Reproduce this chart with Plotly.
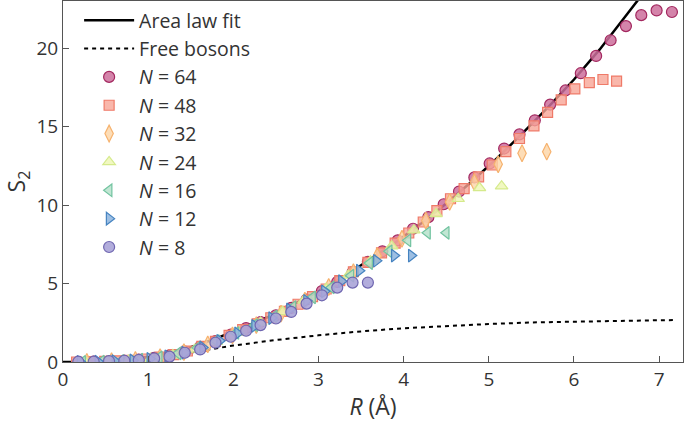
import plotly.graph_objects as go

# Area law fit curve
fit_R = [0, 0.3, 0.6, 0.9, 1.2, 1.5, 1.8, 2.1, 2.4, 2.7, 3.0, 3.3, 3.6, 3.9, 4.2, 4.5, 4.8, 5.1, 5.4, 5.7, 6.0, 6.3, 6.6, 6.9]
fit_S = [0, 0.02, 0.1, 0.25, 0.5, 0.95, 1.5, 2.15, 2.85, 3.65, 4.5, 5.45, 6.5, 7.6, 8.8, 10.1, 11.5, 13.0, 14.6, 16.25, 18.0, 19.9, 22.0, 24.1]

# Free bosons curve
fb_R = [0, 0.5, 1.0, 1.5, 2.0, 2.5, 3.0, 3.5, 4.0, 4.5, 5.0, 5.5, 6.0, 6.5, 7.0, 7.2]
fb_S = [0, 0.05, 0.25, 0.6, 1.05, 1.4, 1.7, 1.95, 2.15, 2.3, 2.42, 2.52, 2.58, 2.63, 2.66, 2.67]

R64 = [0.18, 0.36, 0.54, 0.72, 0.89, 1.07, 1.25, 1.43, 1.61, 1.79, 1.97, 2.15, 2.32, 2.50, 2.68, 2.86, 3.04, 3.22, 3.40, 3.58,
       3.75, 3.93, 4.11, 4.29, 4.47, 4.65, 4.83, 5.01, 5.18, 5.36, 5.54, 5.72, 5.90, 6.08, 6.26, 6.43, 6.61, 6.79, 6.97, 7.15]
S64 = [0.0, 0.02, 0.05, 0.09, 0.15, 0.26, 0.42, 0.66, 0.97, 1.33, 1.74, 2.16, 2.55, 2.98, 3.45, 3.98, 4.52, 5.1, 5.72, 6.38,
       7.05, 7.75, 8.49, 9.23, 10.05, 10.86, 11.76, 12.65, 13.6, 14.5, 15.4, 16.4, 17.3, 18.4, 19.5, 20.5, 21.4, 22.1, 22.4, 22.3]

R48 = [0.16, 0.33, 0.49, 0.65, 0.81, 0.98, 1.14, 1.30, 1.46, 1.63, 1.79, 1.95, 2.11, 2.28, 2.44, 2.60, 2.76, 2.93, 3.09, 3.25,
       3.41, 3.58, 3.74, 3.90, 4.06, 4.23, 4.39, 4.55, 4.71, 4.88, 5.04, 5.20, 5.36, 5.53, 5.69, 5.85, 6.01, 6.18, 6.34, 6.50]
S48 = [0.0, 0.02, 0.04, 0.07, 0.11, 0.19, 0.31, 0.47, 0.7, 1.0, 1.32, 1.69, 2.06, 2.43, 2.82, 3.22, 3.68, 4.17, 4.65, 5.18,
       5.75, 6.35, 6.95, 7.58, 8.22, 8.92, 9.65, 10.4, 11.05, 11.8, 12.55, 13.4, 14.24, 15.05, 15.9, 16.7, 17.4, 17.8, 18.0, 17.9]

R32 = [0.28, 0.57, 0.85, 1.14, 1.42, 1.70, 1.99, 2.27, 2.56, 2.84, 3.12, 3.41, 3.69, 3.98, 4.26, 4.54, 4.83, 5.11, 5.39, 5.68]
S32 = [0.01, 0.05, 0.13, 0.3, 0.63, 1.12, 1.7, 2.35, 3.08, 3.9, 4.78, 5.72, 6.75, 7.85, 9.0, 10.2, 11.45, 12.6, 13.3, 13.4]

R24 = [0.26, 0.52, 0.77, 1.03, 1.29, 1.55, 1.80, 2.06, 2.32, 2.58, 2.83, 3.09, 3.35, 3.61, 3.86, 4.12, 4.38, 4.64, 4.89, 5.15]
S24 = [0.01, 0.04, 0.1, 0.22, 0.44, 0.8, 1.3, 1.88, 2.52, 3.2, 3.92, 4.68, 5.52, 6.42, 7.38, 8.4, 9.44, 10.4, 11.1, 11.2]

R16 = [0.23, 0.45, 0.68, 0.90, 1.13, 1.35, 1.58, 1.80, 2.03, 2.25, 2.48, 2.70, 2.93, 3.15, 3.38, 3.60, 3.83, 4.05, 4.28, 4.50]
S16 = [0.01, 0.03, 0.08, 0.16, 0.3, 0.55, 0.9, 1.33, 1.85, 2.35, 2.9, 3.5, 4.12, 4.75, 5.5, 6.3, 7.05, 7.75, 8.23, 8.23]

R12 = [0.20, 0.41, 0.61, 0.82, 1.02, 1.23, 1.43, 1.64, 1.84, 2.05, 2.25, 2.45, 2.66, 2.86, 3.07, 3.27, 3.48, 3.68, 3.89, 4.09]
S12 = [0.01, 0.03, 0.06, 0.11, 0.2, 0.36, 0.6, 0.93, 1.35, 1.82, 2.3, 2.8, 3.35, 3.9, 4.5, 5.15, 5.82, 6.45, 6.78, 6.78]

R8 = [0.18, 0.36, 0.54, 0.72, 0.89, 1.07, 1.25, 1.43, 1.61, 1.79, 1.97, 2.15, 2.32, 2.50, 2.68, 2.86, 3.04, 3.22, 3.40, 3.58]
S8 = [0.02, 0.02, 0.06, 0.08, 0.13, 0.23, 0.34, 0.59, 0.80, 1.23, 1.61, 1.99, 2.35, 2.77, 3.19, 3.72, 4.25, 4.74, 5.06, 5.06]

series = [
    ("64", R64, S64, "circle", "rgba(205,110,155,0.85)", "#a3285f", 11),
    ("48", R48, S48, "square", "rgba(247,165,150,0.8)", "#ef7a68", 10),
    ("32", R32, S32, "diamond-tall", "rgba(252,212,165,0.8)", "#f6b26e", 12),
    ("24", R24, S24, "triangle-up", "rgba(238,246,178,0.8)", "#d5ea8c", 11),
    ("16", R16, S16, "triangle-left", "rgba(178,224,200,0.8)", "#72c3a0", 11),
    ("12", R12, S12, "triangle-right", "rgba(140,180,222,0.85)", "#4583c0", 11),
    ("8", R8, S8, "circle", "rgba(170,164,216,0.9)", "#6f66b0", 11),
]

font = "Open Sans, Lato, sans-serif"
fig = go.Figure()
fig.add_trace(go.Scatter(x=fit_R, y=fit_S, mode="lines", name="Area law fit",
                         line=dict(color="black", width=2.5)))
fig.add_trace(go.Scatter(x=fb_R, y=fb_S, mode="lines", name="Free bosons",
                         line=dict(color="black", width=2, dash="4px,4px")))
for n, r, s, sym, fill, edge, sz in series:
    fig.add_trace(go.Scatter(
        x=r, y=s, mode="markers", name=f"<i>N</i> = {n}",
        marker=dict(symbol=sym, size=sz, color=fill, line=dict(color=edge, width=1.2)),
    ))

fig.update_layout(
    width=685, height=422,
    margin=dict(l=63, r=2, t=1, b=60),
    paper_bgcolor="white", plot_bgcolor="white",
    font=dict(family=font, size=19, color="#333"),
    showlegend=True,
    legend=dict(x=0.026, y=1.0, xanchor="left", yanchor="top", bgcolor="rgba(0,0,0,0)",
                font=dict(size=19.5), itemwidth=50, tracegroupgap=0),
    xaxis=dict(range=[0, 7.28], tickvals=[0, 1, 2, 3, 4, 5, 6, 7], ticks="inside", ticklen=6,
               tickcolor="#555", showline=True, linecolor="#555", linewidth=1, mirror=True,
               showgrid=False, zeroline=False, automargin=False,
               title=dict(text="<i>R</i> (Å)", standoff=10), tickfont=dict(size=19)),
    yaxis=dict(range=[0, 23], tickvals=[0, 5, 10, 15, 20], ticks="inside", ticklen=6,
               tickcolor="#555", showline=True, linecolor="#555", linewidth=1, mirror=True,
               showgrid=False, zeroline=False, automargin=False,
               title=dict(text="S<sub>2</sub>", standoff=12), tickfont=dict(size=19)),
)
fig.write_html("out.html", config={"displayModeBar": False})

# remove the default page margin so the figure sits at the window's top-left corner
with open("out.html", "r", encoding="utf-8") as f:
    html = f.read()
html = html.replace("<head>", "<head><style>html,body{margin:0;padding:0;overflow:hidden;}</style>", 1)
with open("out.html", "w", encoding="utf-8") as f:
    f.write(html)
